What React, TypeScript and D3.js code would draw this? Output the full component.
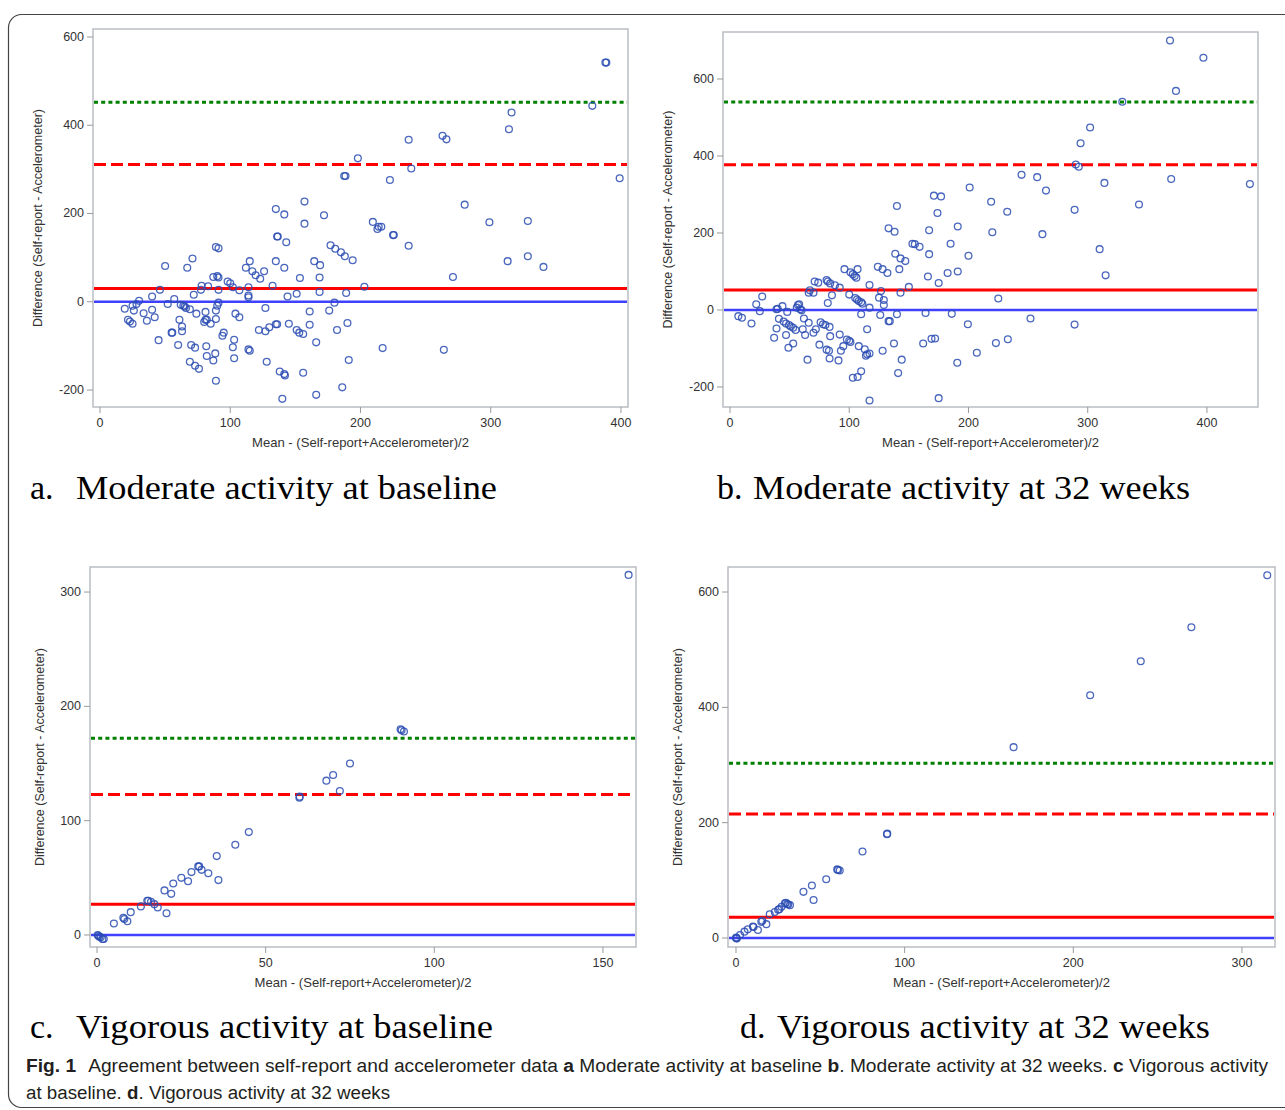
import React, { useLayoutEffect, useRef, useState } from "react"
import * as d3 from "d3"

// Bland-Altman points: [mean, difference]
const pointsA: [number, number][] = [
  [19, -16], [21.5, -41], [23, -45], [25, -50], [25, -9], [26, -20], [28, -5], [30, 2], [33.5, -26], [36, -43],
  [40, 12], [40, -18], [42, -35], [45, -87], [46, 27], [50, 81], [52, -5], [57, 6], [61, -41], [60, -98],
  [55, -70], [55.5, -70], [62, -7], [64, -9], [65, -11], [66, -14], [63, -56], [63, -67], [67, 77], [69, -17],
  [71, 98], [70, -98], [69, -136], [72, 16], [73, -145], [73, -104], [74, -27], [76, -152], [77.5, 27], [78, 36],
  [81, -23], [80, -46], [81, -41], [82, -41], [81.6, -101], [82, -123], [83, 35], [85, -50], [87, 56], [87, -133],
  [88.5, -117], [89, 124], [91, 121], [90, 58], [91, 55], [91, 27], [89, -20], [90, -9], [91, -2], [89, -39],
  [89, -179], [94, -77], [95, -70], [98, 46], [100, 42], [102, 33], [102, -103], [103, -86], [104, -27], [103, -128],
  [107, -35], [107, 26], [112, 77], [114, 33], [114, 14], [114, 10], [115, 92], [114, -108], [115, -111], [117, 69],
  [119.5, 60], [122, -64], [123, 52], [126, 69], [127, -14], [128, -136], [127, -67], [130, -58], [132.5, 36], [135, 92],
  [135, 210], [136, 148], [136.5, 148], [136, -51], [135, -51], [141.5, 198], [143, 135], [141.5, 77], [138, -158], [141.5, -164],
  [142, -167], [140, -220], [144, 12], [145, -50], [151, 18], [151, -64], [153, -70], [153.5, 54], [156, -73], [156, -161],
  [157, 227], [157, 177], [161, -22], [161, -52], [164.5, 92], [166, -92], [166, -211], [168.6, 55], [169, 83], [168.6, 22],
  [172, 196], [176, -20], [177, 128], [180, -2], [180.6, 120], [182, -64], [185, 112], [186, -194], [188, 103], [189, 20],
  [190, -48], [191, -132], [194, 94], [203, 34], [209.5, 181], [198, 325], [187.5, 285], [188.5, 285], [222.6, 276], [237, 367],
  [239, 302], [263, 376], [266, 368], [314, 391], [316, 429], [378, 444], [388, 542], [388.8, 542], [399, 280], [213, 165],
  [214, 170], [216, 170], [225, 151], [225.6, 151], [237, 127], [280, 220], [299, 180], [328.5, 183], [313, 92], [328.5, 103],
  [340.5, 79], [271, 56], [217, -105], [264, -109],
]

const pointsB: [number, number][] = [
  [7, -16], [10, -20], [18, -35], [22, 15], [25, -3], [27, 35], [37, -72], [39, 2], [39, -48], [40, 3],
  [41, -23], [44, 10], [45, -30], [47, -65], [48, -5], [49, -98], [47, -35], [49.5, -39], [51, -43], [53, -87],
  [53, -46], [55, -52], [56, 6], [57, 13], [58, 15], [59, 2], [60, -1], [61, -50], [62, -22], [63, -65],
  [65, -129], [66, -33], [66, 45], [67, 51], [70, 45], [71, 74], [70, -59], [72, -50], [74, 71], [75, -90],
  [76, -32], [78, -37], [80, -39], [81, 78], [82, 74], [83.5, -44], [82, 18], [84, 69], [84, -68], [85.5, 38],
  [88, 64], [92, 58], [92, -64], [91, -131], [93, -106], [81, -103], [83, -106], [83.5, -126], [95, -94], [96, 106],
  [98, -77], [100, -80], [101, -83], [100, 40], [101, 98], [103, 93], [104.5, 88], [106, 84], [107, 106], [105, 31],
  [106.5, 27], [108, 23], [110, 20], [111, 16], [108, -94], [110, -11], [103, -176], [107, -174], [110, -159], [113, -102],
  [115, -115], [117, -113], [114, -119], [115, -50], [117, 65], [117, 6], [117, -235], [124, 112], [125, 32], [126.6, 49],
  [128, 106], [129, 13], [129, 26], [132, 96], [126, -13], [128, -106], [133, -29], [134, -29], [137.5, -87], [138.6, 146],
  [140, -11], [140, 270], [141, -164], [142, 106], [143, 134], [144, -129], [147, 127], [143, 45], [150, 60], [133, 212],
  [138, 203], [153, 172], [155, 171], [159, 164], [162, -87], [164, -8], [166, 87], [167, 145], [167, 207], [169, -75],
  [172, -74], [171, 297], [177, 295], [174, 252], [175, 70], [182.5, 96], [185, 172], [186, -10], [190.6, -137], [191, 217],
  [191, 100], [199.5, -37], [200, 141], [201, 318], [207, -111], [219, 281], [220, 202], [223, -86], [225, 30], [175, -229],
  [369, 700], [397, 655], [374, 569], [329, 541], [302, 474], [294, 433], [290, 378], [292.5, 372], [244.5, 351], [257.6, 345],
  [265, 310], [314, 330], [370, 340], [436, 327], [232.5, 255], [289, 260], [343, 274], [262, 197], [310, 158], [315, 90],
  [252, -22], [289, -38], [233, -76],
]

const pointsC: [number, number][] = [
  [0.2, 0], [0.4, -0.6], [0.7, -1.5], [1.1, -2], [1.6, -3.5], [2, -3.5], [5, 10], [7.8, 15], [8.1, 14], [9, 12],
  [10, 20], [13, 25], [14.9, 30], [15.2, 30], [16, 29], [17, 27], [18, 24], [20, 39], [20.6, 19], [22, 36],
  [22.6, 45], [25, 50], [27, 47], [28, 55], [30, 60], [30.3, 60], [31, 57], [33, 54], [35.5, 69], [36, 48],
  [41, 79], [45, 90], [60, 120], [60.1, 121], [68, 135], [70, 140], [72, 126], [75, 150], [90, 180], [90.3, 179],
  [91, 178], [157.6, 315],
]

const pointsD: [number, number][] = [
  [0, 0], [0.5, -1], [0.2, 1], [2.4, 5], [5, 11], [7, 15], [10, 20], [10.4, 19], [13, 14], [15, 28],
  [15.6, 30], [18, 24], [20, 41], [23, 45], [25, 49], [25.7, 50], [27, 54], [29, 60], [29.6, 61], [30.4, 59],
  [31, 58], [32, 57], [40, 80], [45, 91], [46, 66], [53.5, 102], [60, 119], [60.5, 118], [61.5, 117], [75, 150],
  [89.5, 180], [89.7, 181], [164.6, 331], [210, 421], [240, 480], [270, 539], [315, 629],
]

// reference lines per panel (a, b, c, d)
const meanDiff = [30, 52, 27, 36]
const upperLoA = [311, 377, 123, 215]
const upperBound = [452, 540, 172, 303]

const xTicksList = [[0, 100, 200, 300, 400], [0, 100, 200, 300, 400], [0, 50, 100, 150], [0, 100, 200, 300]]
const yTicksList = [[-200, 0, 200, 400, 600], [-200, 0, 200, 400, 600], [0, 100, 200, 300], [0, 200, 400, 600]]

const panelLetters = ["a.", "b.", "c.", "d."]
const panelTitles = [
  "Moderate activity at baseline",
  "Moderate activity at 32 weeks",
  "Vigorous activity at baseline",
  "Vigorous activity at 32 weeks",
]

const xTitle = "Mean - (Self-report+Accelerometer)/2"
const yTitle = "Difference (Self-report - Accelerometer)"

const allPoints = [pointsA, pointsB, pointsC, pointsD]

// frame boxes and axis extents
const layouts = [
  { left: 93, top: 29, right: 628, bottom: 407, xDom: [-5.37, 405.4], yDom: [-238.5, 618.1], yLab: 51,
    title: { x: 30, gap: 46, y: 499, w: 421 } },
  { left: 723, top: 32, right: 1258, bottom: 407, xDom: [-5.87, 442.8], yDom: [-252, 722], yLab: 51,
    title: { x: 717, gap: 36, y: 499, w: 437 } },
  { left: 90, top: 567, right: 636, bottom: 947, xDom: [-2.08, 159.8], yDom: [-10.5, 321.9], yLab: 46,
    title: { x: 30, gap: 46, y: 1038, w: 417 } },
  { left: 728, top: 567, right: 1275, bottom: 947, xDom: [-4.74, 319.6], yDom: [-15.6, 643.4], yLab: 46,
    title: { x: 740, gap: 37, y: 1038, w: 433 } },
]

const axisFont = "'Liberation Sans', Arial, sans-serif"
const serif = "'Liberation Serif', 'Times New Roman', serif"
const capFont = "'Liberation Sans', Arial, sans-serif"

// squeeze a caption line horizontally to a target width
function FitLine({ x, y, width, children }: { x: number; y: number; width: number; children: React.ReactNode }) {
  const ref = useRef<SVGTextElement>(null)
  const [sx, setSx] = useState(0.8)
  useLayoutEffect(() => {
    if (ref.current) {
      const w = ref.current.getBBox().width
      if (w > 0) setSx(width / w)
    }
  }, [width])
  return (
    <g transform={`translate(${x},${y}) scale(${sx},1)`}>
      <text ref={ref} x={0} y={0} fontSize={19} fill="#231f20" fontFamily={capFont}>{children}</text>
    </g>
  )
}

function Panel({ i }: { i: number }) {
  const L = layouts[i]
  const x = d3.scaleLinear().domain(L.xDom).range([L.left, L.right])
  const y = d3.scaleLinear().domain(L.yDom).range([L.bottom, L.top])
  const hline = (v: number, color: string, w: number, dash?: string) => (
    <line x1={L.left + 1} x2={L.right - 1} y1={y(v)} y2={y(v)} stroke={color} strokeWidth={w} strokeDasharray={dash} />
  )
  const cx = (L.left + L.right) / 2
  const cy = (L.top + L.bottom) / 2
  return (
    <g>
      {hline(0, "#4040ff", 2.6)}
      {hline(meanDiff[i], "#ff0000", 3)}
      {hline(upperLoA[i], "#ff0000", 3, "12 5")}
      {hline(upperBound[i], "#008000", 3, "4 3.2")}
      {allPoints[i].map((d, k) => (
        <circle key={k} cx={x(d[0])} cy={y(d[1])} r={3.4} fill="none" stroke="#2a4cb2" strokeWidth={1.3} strokeOpacity={0.85} />
      ))}
      <rect x={L.left} y={L.top} width={L.right - L.left} height={L.bottom - L.top} fill="none" stroke="#b9bdc2" strokeWidth={1.5} />
      {xTicksList[i].map(t => (
        <g key={"x" + t}>
          <line x1={x(t)} x2={x(t)} y1={L.bottom} y2={L.bottom + 6} stroke="#9a9a9a" />
          <text x={x(t)} y={L.bottom + 20} textAnchor="middle" fontSize={12.5} fill="#333" fontFamily={axisFont}>{t}</text>
        </g>
      ))}
      {yTicksList[i].map(t => (
        <g key={"y" + t}>
          <line x1={L.left - 6} x2={L.left} y1={y(t)} y2={y(t)} stroke="#9a9a9a" />
          <text x={L.left - 9} y={y(t) + 4} textAnchor="end" fontSize={12.5} fill="#333" fontFamily={axisFont}>{t}</text>
        </g>
      ))}
      <text x={cx} y={L.bottom + 40} textAnchor="middle" fontSize={13} fill="#333" fontFamily={axisFont}
        textLength={217} lengthAdjust="spacingAndGlyphs">{xTitle}</text>
      <text transform={`translate(${L.left - L.yLab},${cy}) rotate(-90)`} textAnchor="middle" fontSize={12.5} fill="#333"
        fontFamily={axisFont} textLength={218} lengthAdjust="spacingAndGlyphs">{yTitle}</text>
      <text x={L.title.x} y={L.title.y} fontSize={34} fill="#000" fontFamily={serif}>{panelLetters[i]}</text>
      <text x={L.title.x + L.title.gap} y={L.title.y} fontSize={34} fill="#000" fontFamily={serif}
        textLength={L.title.w} lengthAdjust="spacingAndGlyphs">{panelTitles[i]}</text>
    </g>
  )
}

export default function App() {
  return (
    <svg width={1285} height={1110} style={{ position: "absolute", left: 0, top: 0, background: "#fff" }}>
      <rect x={8.5} y={14.5} width={1320} height={1093} rx={13} fill="#fff" stroke="#444" strokeWidth={1.2} />
      {[0, 1, 2, 3].map(i => <Panel key={i} i={i} />)}
      <FitLine x={26} y={1072} width={1242}>
        <tspan fontWeight="bold">Fig. 1</tspan>
        <tspan dx={12}>Agreement between self-report and accelerometer data </tspan>
        <tspan fontWeight="bold">a</tspan> Moderate activity at baseline <tspan fontWeight="bold">b</tspan>. Moderate activity
        at 32 weeks. <tspan fontWeight="bold">c</tspan> Vigorous activity
      </FitLine>
      <FitLine x={26} y={1099} width={364}>
        at baseline. <tspan fontWeight="bold">d</tspan>. Vigorous activity at 32 weeks
      </FitLine>
    </svg>
  )
}
